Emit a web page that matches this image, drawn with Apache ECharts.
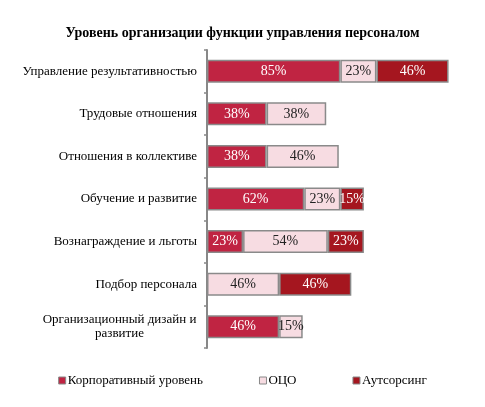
<!DOCTYPE html>
<html>
<head>
<meta charset="utf-8">
<script src="https://cdn.jsdelivr.net/npm/echarts@6/dist/echarts.min.js"></script>
<style>
html,body{margin:0;padding:0;background:#fff;}
#chart{width:485px;height:407px;}
</style>
</head>
<body>
<div id="chart"></div>
<script>
// категории и значения (%)
var categories = ['Управление результативностью','Трудовые отношения','Отношения в коллективе','Обучение и развитие','Вознаграждение и льготы','Подбор персонала','Организационный дизайн и\nразвитие'];
var corpValues = [85, 38, 38, 62, 23, null, 46];
var ocoValues  = [23, 38, 46, 23, 54, 46, 15];
var outValues  = [46, null, null, 15, 23, 46, null];
var seriesNames = ['Корпоративный уровень','ОЦО','Аутсорсинг'];

var FONT = 'Liberation Serif';

function bar(name, data, color, txt){
	return {
		name: name,
		type: 'bar',
		stack: 'all',
		barWidth: '54%',
		data: data,
		itemStyle: {color: color, borderColor: '#8a8a8a', borderWidth: 1.5},
		label: {show: true, position: 'inside', formatter: '{c}%', color: txt, fontFamily: FONT, fontSize: 14},
		emphasis: {disabled: true}
	};
}

var myChart = echarts.init(document.getElementById('chart'));
var option = {
	animation: false,
	title: {
		text: 'Уровень организации функции управления персоналом',
		left: 'center', top: 21,
		textStyle: {fontFamily: FONT, fontSize: 14, fontWeight: 'bold', color: '#000'}
	},
	legend: {
		bottom: 15, left: 'center',
		itemWidth: 7, itemHeight: 7, itemGap: 56,
		icon: 'rect',
		itemStyle: {borderColor: '#888', borderWidth: 1},
		textStyle: {fontFamily: FONT, fontSize: 13, color: '#000', padding: [0, 0, 0, -3]},
		data: seriesNames
	},
	grid: {left: 207, top: 50, bottom: 59, right: 27, containLabel: false},
	xAxis: {type: 'value', min: 0, max: 160, show: false},
	yAxis: {
		type: 'category', inverse: true, data: categories,
		axisLine: {lineStyle: {color: '#888', width: 2}},
		axisTick: {show: true, length: 3, lineStyle: {color: '#888', width: 1.5}},
		axisLabel: {
			margin: 10, color: '#000', fontFamily: FONT, fontSize: 13,
			formatter: function(v){
				return v.indexOf('\n') >= 0 ? '{c|' + v.replace('\n', '}\n{c|') + '}' : v;
			},
			rich: {c: {width: 155, align: 'center', fontFamily: FONT, fontSize: 13, color: '#000', lineHeight: 14}}
		}
	},
	series: [
		bar(seriesNames[0], corpValues, '#c02442', '#fff'),
		bar(seriesNames[1], ocoValues, '#f7dce2', '#222'),
		bar(seriesNames[2], outValues, '#a5161f', '#fff')
	]
};
myChart.setOption(option);
</script>
</body>
</html>
